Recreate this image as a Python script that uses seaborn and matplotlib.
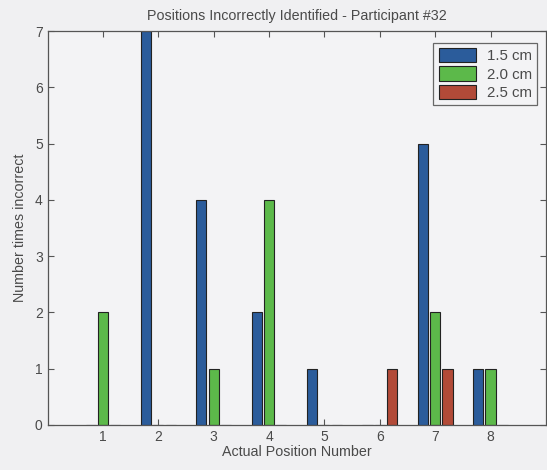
import matplotlib
matplotlib.use("Agg")
import matplotlib.pyplot as plt
import seaborn as sns
import pandas as pd

positions = [1, 2, 3, 4, 5, 6, 7, 8]
sizes = ["1.5 cm", "2.0 cm", "2.5 cm"]
counts_15 = [0, 7, 4, 2, 1, 0, 5, 1]
counts_20 = [2, 0, 1, 4, 0, 0, 2, 1]
counts_25 = [0, 0, 0, 0, 0, 1, 1, 0]
colors = ["#2b5c9b", "#5cb94a", "#b24a38"]

df = pd.DataFrame({
    "position": positions * 3,
    "size": [s for s in sizes for _ in positions],
    "count": counts_15 + counts_20 + counts_25,
})

sns.set_style("ticks")
plt.rcParams["font.family"] = ["Liberation Sans", "DejaVu Sans"]
text_color = "#4a4a4a"

fig = plt.figure(figsize=(5.47, 4.70), dpi=100, facecolor="#f0f0f2")
ax = fig.add_axes([0.087, 0.096, 0.911, 0.838])
ax.set_facecolor("#f3f3f5")

sns.barplot(data=df, x="position", y="count", hue="size", hue_order=sizes,
            palette=colors, native_scale=True, width=0.667, gap=0.18,
            edgecolor="#222222", linewidth=0.8, saturation=1, ax=ax)

ax.set_xlim(0, 9)
ax.set_ylim(0, 7)
ax.set_xticks(positions)
ax.set_xticklabels([str(p) for p in positions])
ax.set_yticks(range(0, 8))
ax.tick_params(direction="in", top=True, right=True, length=4, width=0.8,
               colors="#555555", labelcolor=text_color, labelsize=10)
for s in ax.spines.values():
    s.set_visible(True)
    s.set_color("#555555")
    s.set_linewidth(0.9)

ax.set_title("Positions Incorrectly Identified - Participant #32",
             fontsize=10.3, color=text_color, pad=8)
ax.set_xlabel("Actual Position Number", fontsize=10.3, color=text_color, labelpad=1)
ax.set_ylabel("Number times incorrect", fontsize=10.3, color=text_color, labelpad=6)

leg = ax.legend(loc="upper right", bbox_to_anchor=(0.988, 0.978), fontsize=10.8,
                frameon=True, fancybox=False, edgecolor="#444444",
                handlelength=2.5, handleheight=1.1, borderpad=0.35,
                labelspacing=0.2, handletextpad=0.7, borderaxespad=0.2)
leg.get_frame().set_facecolor("#f3f3f5")
leg.get_frame().set_linewidth(0.9)
for t in leg.get_texts():
    t.set_color(text_color)

fig.savefig("out.png", dpi=100, facecolor=fig.get_facecolor())
